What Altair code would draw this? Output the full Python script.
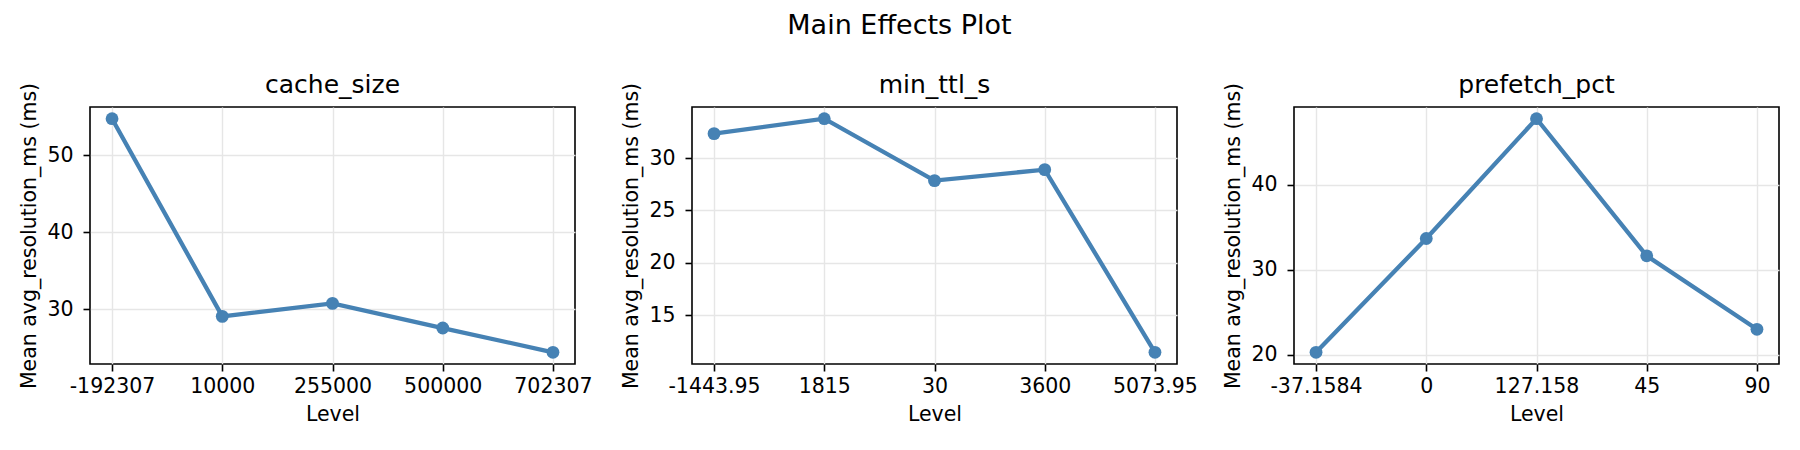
import altair as alt
import pandas as pd

# ---- data ----
factor_names = ["cache_size", "min_ttl_s", "prefetch_pct"]

cache_levels = ["-192307", "10000", "255000", "500000", "702307"]
cache_means = [54.77, 29.05, 30.74, 27.53, 24.37]

ttl_levels = ["-1443.95", "1815", "30", "3600", "5073.95"]
ttl_means = [32.33, 33.76, 27.84, 28.89, 11.44]

prefetch_levels = ["-37.1584", "0", "127.158", "45", "90"]
prefetch_means = [20.28, 33.69, 47.81, 31.65, 22.99]

cache_yticks = [30, 40, 50]
ttl_yticks = [15, 20, 25, 30]
prefetch_yticks = [20, 30, 40]

COLOR = "#4682b4"
FONT = "DejaVu Sans"
PW, PH = 485, 257


def panel(name, levels, means, yticks):
    df = pd.DataFrame({"Level": levels, "Mean": means})
    lo, hi = min(means), max(means)
    m = (hi - lo) * 0.05
    x = alt.X(
        "Level:N",
        sort=levels,
        scale=alt.Scale(type="point", padding=0.2),
        axis=alt.Axis(
            title="Level",
            labelAngle=0,
            grid=True,
            tickSize=7,
            labelPadding=5,
            titlePadding=8,
        ),
    )
    y = alt.Y(
        "Mean:Q",
        scale=alt.Scale(domain=[lo - m, hi + m], nice=False, zero=False),
        axis=alt.Axis(
            title="Mean avg_resolution_ms (ms)",
            values=yticks,
            grid=True,
            tickSize=7,
            labelPadding=10,
            titlePadding=7,
        ),
    )
    base = alt.Chart(df).encode(x=x, y=y)
    line = base.mark_line(color=COLOR, strokeWidth=4.3)
    pts = base.mark_circle(color=COLOR, size=165, opacity=1)
    return alt.layer(line, pts).properties(
        width=PW,
        height=PH,
        title=alt.TitleParams(name, fontSize=25, fontWeight="normal", font=FONT,
                              color="#000", offset=-16),
    )


chart = (
    alt.hconcat(
        panel(factor_names[0], cache_levels, cache_means, cache_yticks),
        panel(factor_names[1], ttl_levels, ttl_means, ttl_yticks),
        panel(factor_names[2], prefetch_levels, prefetch_means, prefetch_yticks),
        spacing=117,
        bounds="flush",
    )
    .properties(
        title=alt.TitleParams("Main Effects Plot", fontSize=27, fontWeight="normal",
                              font=FONT, color="#000", anchor="middle", offset=33),
        padding={"left": 11, "top": 3, "right": 5, "bottom": 5},
    )
    .configure(font=FONT)
    .configure_view(stroke="#000", strokeWidth=1.6)
    .configure_axis(
        labelFont=FONT,
        titleFont=FONT,
        labelFontSize=20.5,
        titleFontSize=20.5,
        labelColor="#000",
        titleColor="#000",
        titleFontWeight="normal",
        domain=False,
        tickColor="#000",
        tickWidth=1.6,
        gridColor="#e6e6e6",
        gridWidth=1.4,
    )
)

chart.save("out.html", embed_options={"renderer": "svg", "actions": False})
